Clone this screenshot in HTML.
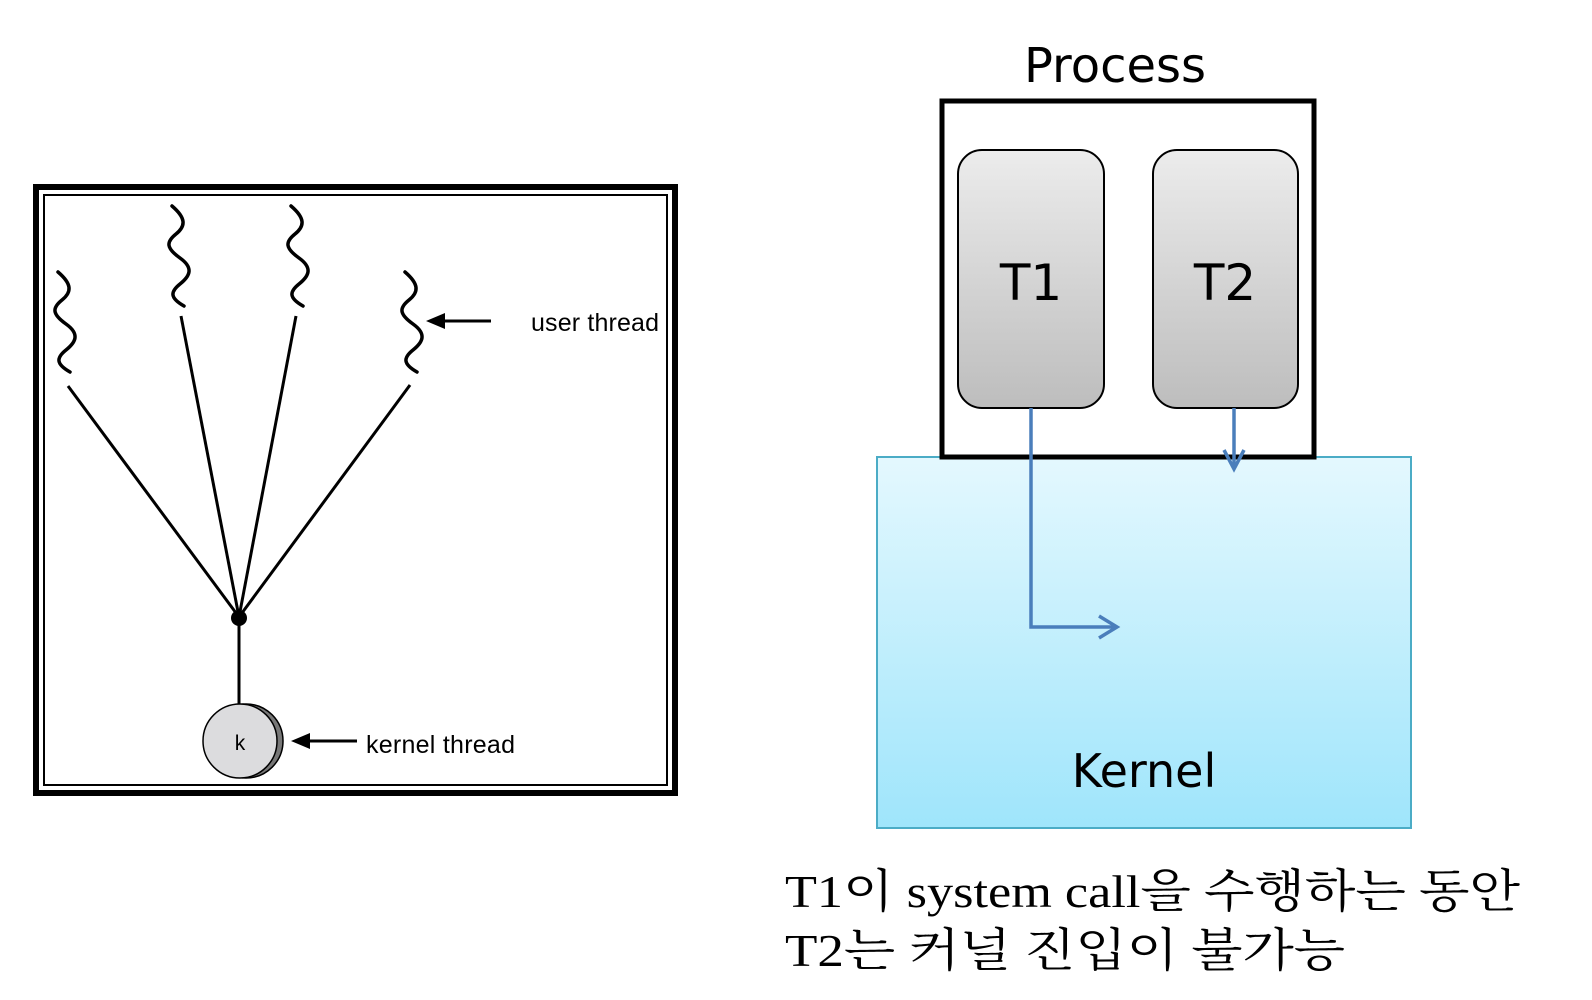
<!DOCTYPE html>
<html><head><meta charset="utf-8"><style>body{margin:0;background:#fff}svg{display:block}</style></head><body>
<svg width="1592" height="1000" viewBox="0 0 1592 1000" xmlns="http://www.w3.org/2000/svg">
<defs>
<linearGradient id="g" x1="0" y1="0" x2="0" y2="1"><stop offset="0" stop-color="#ececec"/><stop offset="1" stop-color="#bdbdbd"/></linearGradient>
<linearGradient id="k" x1="0" y1="0" x2="0" y2="1"><stop offset="0" stop-color="#e4f8fe"/><stop offset="1" stop-color="#9fe5fb"/></linearGradient>
</defs>
<rect x="36" y="187" width="639" height="606" fill="#fff" stroke="#000" stroke-width="6"/>
<rect x="44" y="195" width="623" height="590" fill="none" stroke="#000" stroke-width="2"/>
<g fill="none" stroke="#000" stroke-width="3.5" stroke-linecap="round">
<path d="M58 272 c14 12 14 20 4 28 c-10 8 -10 14 4 24 c14 10 10 18 0 26 c-10 8 -10 14 4 22"/>
<path d="M172 206 c14 12 14 20 4 28 c-10 8 -10 14 4 24 c14 10 10 18 0 26 c-10 8 -10 14 4 22"/>
<path d="M291 206 c14 12 14 20 4 28 c-10 8 -10 14 4 24 c14 10 10 18 0 26 c-10 8 -10 14 4 22"/>
<path d="M405 272 c14 12 14 20 4 28 c-10 8 -10 14 4 24 c14 10 10 18 0 26 c-10 8 -10 14 4 22"/>
</g>
<g stroke="#000" stroke-width="3">
<line x1="68" y1="386" x2="239" y2="617"/>
<line x1="181" y1="316" x2="239" y2="617"/>
<line x1="296" y1="316" x2="239" y2="617"/>
<line x1="410" y1="385" x2="239" y2="617"/>
<line x1="239" y1="617" x2="239" y2="705"/>
<line x1="440" y1="321" x2="491" y2="321"/>
<line x1="306" y1="741" x2="357" y2="741"/>
</g>
<polygon points="426,321 445,313 445,329" fill="#000"/>
<polygon points="291,741 310,733 310,749" fill="#000"/>
<circle cx="239" cy="618" r="8" fill="#000"/>
<circle cx="246" cy="741" r="37" fill="#777" stroke="#000" stroke-width="1.5"/>
<circle cx="240" cy="741" r="37" fill="#dcdcde" stroke="#000" stroke-width="1.5"/>
<text x="240" y="750" font-family="Liberation Sans, sans-serif" font-size="21" text-anchor="middle">k</text>
<text x="531" y="331" font-family="Liberation Sans, sans-serif" font-size="25" textLength="128">user thread</text>
<text x="366" y="753" font-family="Liberation Sans, sans-serif" font-size="25" textLength="149">kernel thread</text>
<text x="1115" y="82" font-family="DejaVu Sans, Liberation Sans, sans-serif" font-size="48" text-anchor="middle">Process</text>
<rect x="877" y="457" width="534" height="371" fill="url(#k)" stroke="#4bacc6" stroke-width="2"/>
<path d="M942 457 V101 H1314 V457 Z" fill="none" stroke="#000" stroke-width="5"/>
<rect x="958" y="150" width="146" height="258" rx="24" fill="url(#g)" stroke="#000" stroke-width="2"/>
<rect x="1153" y="150" width="145" height="258" rx="24" fill="url(#g)" stroke="#000" stroke-width="2"/>
<text x="1031" y="300" font-family="DejaVu Sans, Liberation Sans, sans-serif" font-size="50" text-anchor="middle">T1</text>
<text x="1225" y="300" font-family="DejaVu Sans, Liberation Sans, sans-serif" font-size="50" text-anchor="middle">T2</text>
<g fill="none" stroke="#4a7ebb" stroke-width="3.5">
<path d="M1031 408 V627 H1115"/>
<path d="M1099 616 L1117 627 L1099 638"/>
<path d="M1234 408 V468"/>
<path d="M1224 450 L1234 469 L1244 450"/>
</g>
<text x="1144" y="787" font-family="DejaVu Sans, Liberation Sans, sans-serif" font-size="46" text-anchor="middle">Kernel</text>
<text x="785" y="907" font-family="Liberation Serif, Noto Serif CJK SC, serif" font-size="46" textLength="735" lengthAdjust="spacingAndGlyphs">T1이 system call을 수행하는 동안</text>
<text x="785" y="966" font-family="Liberation Serif, Noto Serif CJK SC, serif" font-size="46" textLength="560" lengthAdjust="spacingAndGlyphs">T2는 커널 진입이 불가능</text>
</svg>
</body></html>
